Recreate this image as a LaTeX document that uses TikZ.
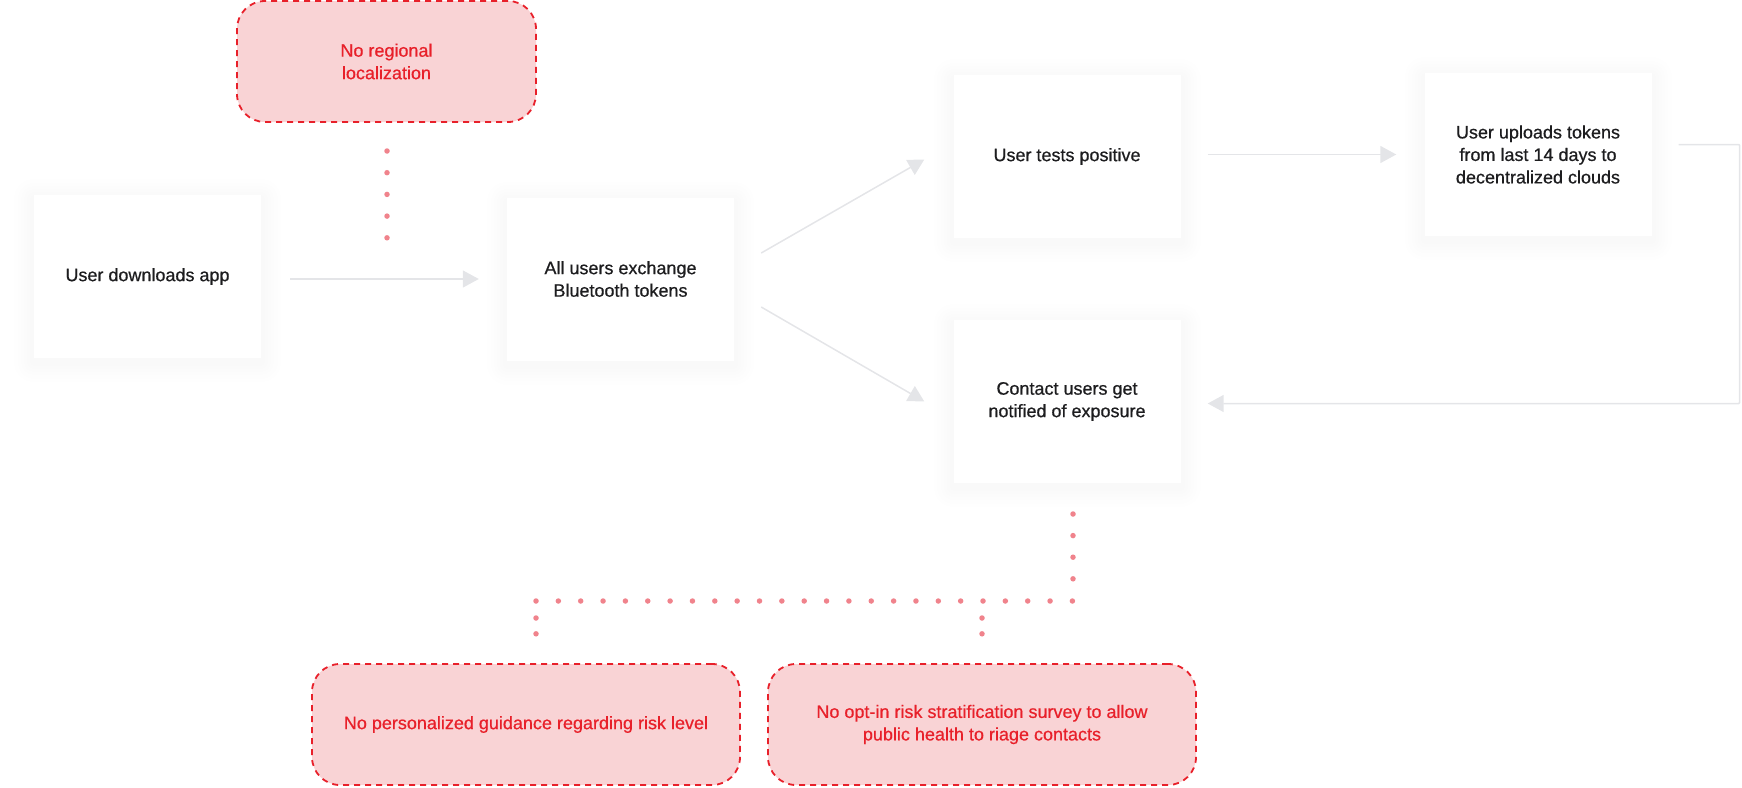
\documentclass[tikz,border=0pt]{standalone}
\usepackage{fontspec}
\setmainfont{Liberation Sans}
\newfontfamily\medfont{Liberation Sans}[FakeBold=0.6]
\usetikzlibrary{arrows.meta}

\definecolor{gapred}{HTML}{E8202A}
\definecolor{gapfill}{HTML}{F9D3D5}
\definecolor{dotpink}{HTML}{F0838C}
\definecolor{flowgray}{HTML}{E4E5E8}
\definecolor{inktext}{HTML}{1D1D1F}

\begin{document}
\begin{tikzpicture}[
    x=1pt, y=-1pt,
    soft/.style={preaction={draw=black, opacity=0.005, line width=#1, line join=round,
        transform canvas={yshift=-4pt}}},
    step box/.style={rectangle, fill=white, minimum width=227pt, minimum height=163pt,
        align=center, text=inktext, font=\medfont\fontsize{18}{22.5}\selectfont,
        soft=40pt, soft=33pt, soft=26pt, soft=20pt, soft=14pt, soft=8pt},
    gap box/.style={rectangle, rounded corners=28pt, fill=gapfill, draw=gapred,
        line width=1.8pt, dash pattern=on 6pt off 5pt, minimum height=121pt,
        align=center, text=gapred, font=\medfont\fontsize{18}{22.5}\selectfont},
    arrow/.style={-{Triangle[length=16pt, width=17pt]}, draw=flowgray, line width=1.5pt},
    dots/.style={draw=dotpink, line width=5.5pt, line cap=round}
]
\useasboundingbox (0,0) rectangle (1742,787);

% Flow steps
\node[step box] (dl) at (147.5,276.5) {User downloads app};
\node[step box] (bt) at (620.5,279) {All users exchange\\Bluetooth tokens};
\node[step box] (tp) at (1067,156.5) {User tests positive};
\node[step box] (up) at (1538,154.5) {User uploads tokens\\from last 14 days to\\decentralized clouds};
\node[step box] (cn) at (1067,401.5) {Contact users get\\notified of exposure};

% Gaps
\node[gap box, minimum width=299pt] (nr) at (386.5,61.5) {No regional\\localization};
\node[gap box, minimum width=428pt] (pg) at (526,724.5) {No personalized guidance regarding risk level};
\node[gap box, minimum width=428pt] (rs) at (982,724.5) {No opt-in risk stratification survey to allow\\public health to riage contacts};

% Flow connectors
\draw[arrow] ([xshift=29pt]bt.west -| dl.east) -- ([xshift=-28pt]bt.west);
\draw[arrow] ([xshift=27pt,yshift=26pt]bt.east) -- ([xshift=-29pt,yshift=-3pt]tp.west);
\draw[arrow] ([xshift=27pt,yshift=-28pt]bt.east) -- ([xshift=-29pt]cn.west);
\draw[arrow] ([xshift=27pt]up.west -| tp.east) -- ([xshift=-28pt]up.west);
\draw[arrow, rounded corners=1pt] ([xshift=27pt,yshift=10pt]up.east) -- ++(61,0) |- ([xshift=27pt,yshift=-2pt]cn.east);

% Dotted links to the gaps
\coordinate (nr1) at (387,151);
\coordinate (nr2) at (387,238);
\draw[dots, dash pattern=on 0pt off 21.7pt] (nr1) -- (nr2);

\coordinate (cn1) at (1073,514);
\coordinate (cn2) at (1073,579);
\coordinate (hr) at (1073,601);
\coordinate (hl) at (536,601);
\draw[dots, dash pattern=on 0pt off 21.6pt] (cn1) -- (cn2);
\draw[dots, dash pattern=on 0pt off 22.35pt] (hl) -- (hr);
\draw[dots, dash pattern=on 0pt off 15.8pt] (536,618) -- (536,634);
\draw[dots, dash pattern=on 0pt off 15.8pt] (982,618) -- (982,634);

\end{tikzpicture}
\end{document}
